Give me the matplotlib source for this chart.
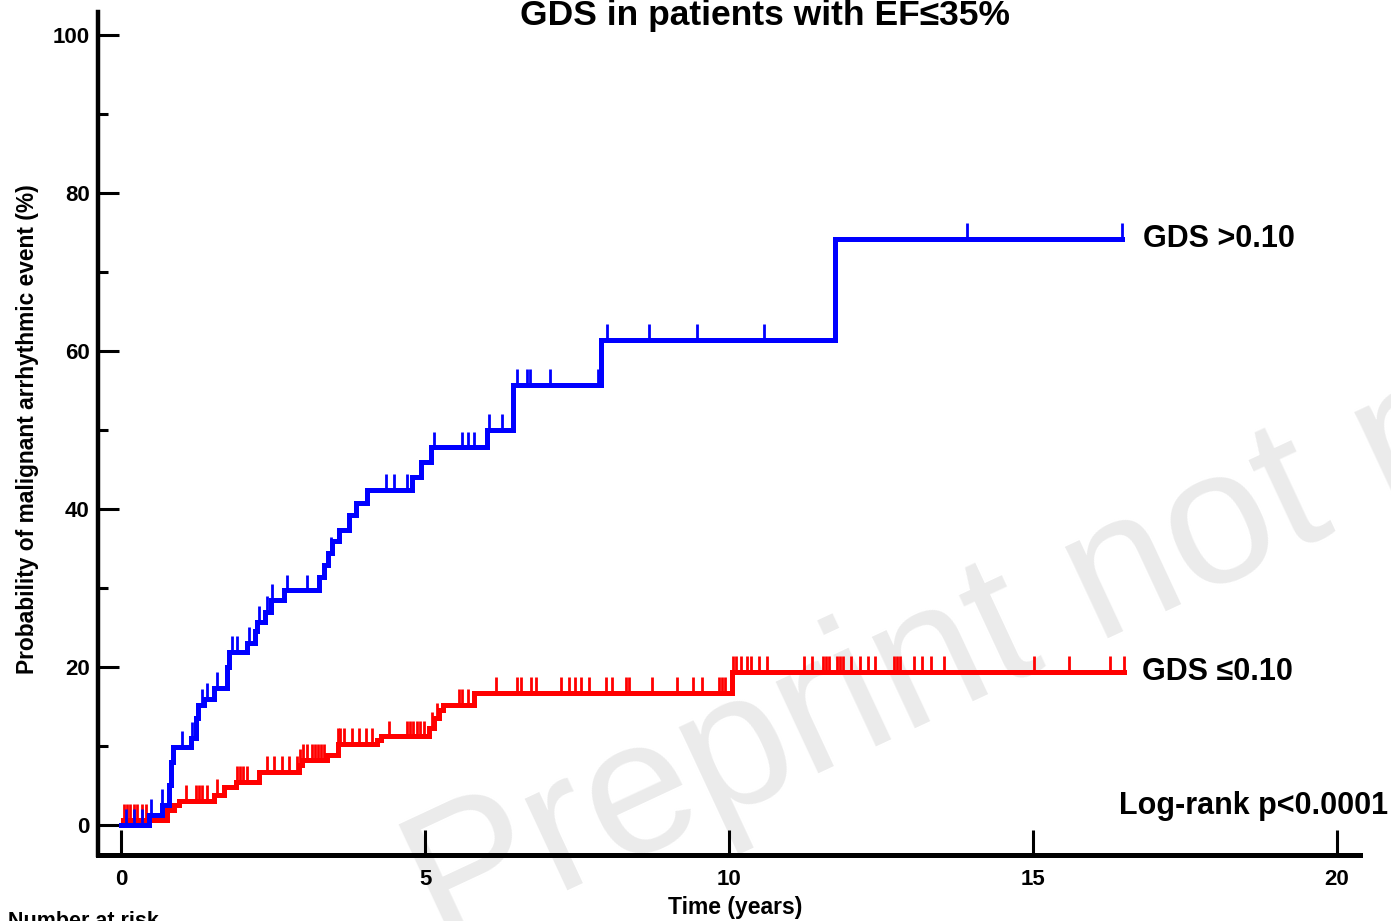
import matplotlib
matplotlib.use("Agg")
import matplotlib.pyplot as plt
import numpy as np

plt.rcParams['font.family'] = ['Liberation Sans', 'DejaVu Sans']

# ---- data (years, cumulative probability %) ----
blue_t = [0.0, 0.46, 0.67, 0.79, 0.82, 0.86, 1.15, 1.23, 1.27, 1.37, 1.53, 1.74, 1.78,
          2.07, 2.21, 2.24, 2.37, 2.47, 2.68, 3.26, 3.34, 3.41, 3.47, 3.59, 3.75, 3.87,
          4.05, 4.79, 4.94, 5.10, 6.02, 6.44, 7.90, 11.74]
blue_v = [0.0, 1.3, 2.5, 5.0, 8.0, 9.9, 11.0, 13.5, 15.2, 16.0, 17.3, 20.0, 21.9,
          23.0, 24.5, 25.7, 27.0, 28.5, 29.7, 31.4, 32.9, 34.4, 36.0, 37.3, 39.2, 40.7,
          42.4, 44.0, 46.0, 47.8, 50.0, 55.7, 61.4, 74.2]
blue_end = 16.46
blue_censor = [0.08, 0.21, 0.35, 0.49, 0.67, 1.00, 1.17, 1.33, 1.42, 1.58, 1.83, 1.91,
               2.11, 2.27, 2.40, 2.49, 2.73, 3.06, 3.46, 4.36, 4.49, 4.71, 4.91, 5.15,
               5.61, 5.70, 5.81, 6.06, 6.27, 6.52, 6.67, 6.72, 7.05, 7.85, 8.00, 8.69,
               9.48, 10.58, 13.91, 16.46]

red_t = [0.0, 0.03, 0.75, 0.87, 0.95, 1.53, 1.70, 1.89, 2.27, 2.93, 2.98, 3.39, 3.56,
         4.21, 4.28, 5.07, 5.14, 5.23, 5.30, 5.81, 10.05]
red_v = [0.0, 0.6, 1.9, 2.5, 3.0, 3.8, 4.8, 5.5, 6.7, 7.6, 8.2, 8.9, 10.3,
         10.8, 11.2, 12.3, 13.5, 14.5, 15.2, 16.7, 19.4]
red_end = 16.49
red_censor = [0.05, 0.10, 0.15, 0.21, 0.26, 0.35, 0.41, 1.07, 1.23, 1.28, 1.33, 1.42,
              1.58, 1.91, 1.96, 2.01, 2.07, 2.40, 2.52, 2.65, 2.77, 2.90, 2.95, 3.00,
              3.05, 3.14, 3.19, 3.24, 3.29, 3.34, 3.56, 3.60, 3.67, 3.80, 3.92, 4.03,
              4.12, 4.41, 4.71, 4.76, 4.81, 4.86, 4.91, 4.99, 5.12, 5.19, 5.56, 5.61,
              5.70, 6.17, 6.52, 6.58, 6.75, 6.83, 7.24, 7.37, 7.46, 7.57, 7.70, 7.98,
              8.08, 8.31, 8.36, 8.74, 9.15, 9.40, 9.55, 9.84, 9.89, 9.94, 10.06, 10.12,
              10.20, 10.29, 10.37, 10.49, 10.63, 11.23, 11.37, 11.54, 11.59, 11.64,
              11.77, 11.82, 11.87, 12.00, 12.16, 12.28, 12.40, 12.71, 12.77, 12.82,
              13.05, 13.17, 13.33, 13.53, 15.01, 15.59, 16.26, 16.49]

x_ticks = [0, 5, 10, 15, 20]
y_ticks = [0, 20, 40, 60, 80, 100]
y_minor = [10, 30, 50, 70, 90]

title = "GDS in patients with EF\u226435%"
ylabel = "Probability of malignant arrhythmic event (%)"
xlabel = "Time (years)"
label_hi = "GDS >0.10"
label_lo = "GDS \u22640.10"
pval = "Log-rank p<0.0001"
watermark = "Preprint not peer reviewed"
risk_header = "Number at risk"

BLUE = "#0000ff"
RED = "#ff0000"

W, H = 1391, 921
fig = plt.figure(figsize=(W / 100, H / 100), dpi=100)

# watermark (behind everything)
fig.text(440 / W, 1 - 950 / H, watermark, fontsize=138,
         color="#ebebeb", rotation=25, rotation_mode="anchor",
         ha="left", va="baseline", zorder=-5)

ax = fig.add_axes([98 / W, 1 - 855 / H, (1360 - 98) / W, (855 - 12) / H])
ax.patch.set_alpha(0)
ax.set_xlim(-0.38, 20.38)
ax.set_ylim(-3.8, 102.9)


def km_step(ax, t, v, end, color):
    tt = list(t) + [end]
    vv = list(v) + [v[-1]]
    ax.step(tt, vv, where="post", color=color, lw=3.6, solid_joinstyle="miter",
            zorder=3)


def censors(ax, t, v, ct, color):
    ct = np.asarray(ct)
    idx = np.searchsorted(np.asarray(t), ct, side="right") - 1
    base = np.asarray(v)[idx]
    ax.vlines(ct, base, base + 2.0, color=color, lw=2.0, zorder=3)


km_step(ax, red_t, red_v, red_end, RED)
censors(ax, red_t, red_v, red_censor, RED)
km_step(ax, blue_t, blue_v, blue_end, BLUE)
censors(ax, blue_t, blue_v, blue_censor, BLUE)

for s in ["top", "right"]:
    ax.spines[s].set_visible(False)
ax.spines["left"].set_linewidth(3.2)
ax.spines["bottom"].set_linewidth(3.6)
ax.spines["left"].set_capstyle("projecting")

ax.set_xticks(x_ticks)
ax.set_xticklabels([str(v) for v in x_ticks])
ax.set_yticks(y_ticks)
ax.set_yticklabels([str(v) for v in y_ticks])
ax.set_yticks(y_minor, minor=True)
ax.tick_params(axis="x", direction="in", length=18, width=2.2, pad=10,
               labelsize=16)
ax.tick_params(axis="y", which="major", direction="in", length=15, width=2.2,
               pad=6, labelsize=16)
ax.tick_params(axis="y", which="minor", direction="in", length=7, width=2.2)
for lab in ax.get_xticklabels() + ax.get_yticklabels():
    lab.set_fontweight("bold")

fig.text(765 / W, 1 - 15 / H, title, fontsize=25.5, fontweight="bold",
         ha="center", va="center")
fig.text(28 / W, 1 - 429 / H, ylabel, fontsize=16.4, fontweight="bold",
         rotation=90, ha="center", va="center")
fig.text(735 / W, 1 - 907 / H, xlabel, fontsize=16.5, fontweight="bold",
         ha="center", va="center")
fig.text(8 / W, 1 - 911 / H, risk_header, fontsize=15.5, fontweight="bold",
         ha="left", va="top")

ax.text(blue_end + 0.35, blue_v[-1], label_hi, fontsize=22, fontweight="bold",
        ha="left", va="center")
ax.text(red_end + 0.3, red_v[-1], label_lo, fontsize=22, fontweight="bold",
        ha="left", va="center")
fig.text(1388 / W, 1 - 806 / H, pval, fontsize=22, fontweight="bold",
         ha="right", va="center")

fig.savefig("out.png", dpi=100)
